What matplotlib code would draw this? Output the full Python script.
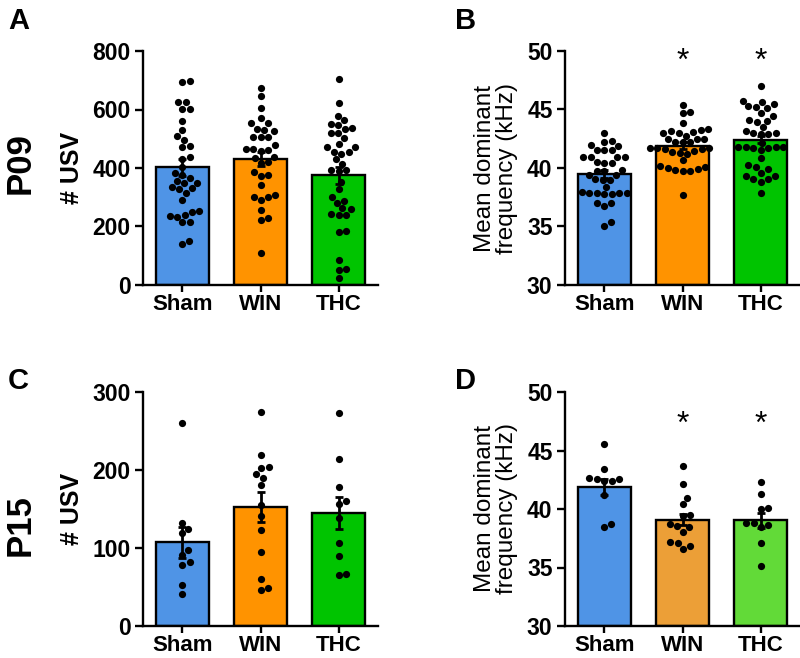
import numpy as np
import matplotlib
matplotlib.use('Agg')
import matplotlib.pyplot as plt

plt.rcParams['font.family'] = ['Liberation Sans', 'DejaVu Sans']

groups = ['Sham', 'WIN', 'THC']

# P09 - number of USVs (individual pups)
usv_p09_sham = [695, 699, 624, 627, 602, 601, 559, 530, 508, 496, 475, 471, 439, 431, 405, 382, 376, 367,
                357, 350, 348, 336, 331, 328, 314, 291, 254, 251, 239, 236, 234, 217, 214, 150, 140]
usv_p09_win = [675, 647, 604, 570, 553, 553, 530, 526, 534, 507, 507, 507, 477, 464, 458, 462, 464, 439,
               433, 422, 416, 387, 374, 376, 342, 302, 302, 308, 291, 256, 228, 222, 108]
usv_p09_thc = [703, 621, 579, 549, 547, 564, 532, 519, 519, 538, 501, 481, 473, 456, 448, 456, 471, 430,
               414, 393, 393, 390, 353, 328, 287, 281, 302, 262, 239, 239, 242, 259, 186, 180, 85, 54, 51, 25]
usv_p09_mean = [402, 431, 376]
usv_p09_sem = [28, 25, 29]

# P09 - mean dominant frequency (kHz)
freq_p09_sham = [42.96, 42.25, 42.31, 41.88, 41.97, 41.54, 41.54, 41.54, 40.97, 40.97, 40.97, 40.91, 40.54,
                 40.46, 40.40, 39.83, 39.74, 39.74, 39.40, 39.40, 38.97, 38.97, 39.03, 38.40, 37.89, 37.89,
                 37.89, 37.83, 37.78, 37.78, 37.98, 37.04, 37.04, 36.75, 35.41, 35.04]
freq_p09_win = [45.38, 44.76, 44.73, 43.82, 43.30, 43.19, 42.96, 42.96, 43.05, 43.25, 42.76, 42.48, 42.25,
                42.19, 42.19, 42.45, 42.48, 41.68, 41.68, 41.60, 41.45, 41.40, 41.62, 41.68, 41.31, 41.20,
                40.68, 40.11, 39.91, 39.77, 39.77, 39.83, 39.97, 40.17, 37.69]
freq_p09_thc = [47.01, 45.76, 45.47, 45.67, 45.30, 45.10, 45.24, 44.73, 44.44, 44.10, 43.96, 44.05, 43.53,
                43.19, 43.02, 42.91, 42.91, 43.02, 42.17, 41.77, 41.68, 41.68, 41.54, 41.77, 41.82, 41.82,
                40.83, 40.26, 40.11, 39.89, 39.60, 39.32, 39.03, 39.06, 39.32, 38.83, 37.89]
freq_p09_mean = [39.5, 41.9, 42.4]
freq_p09_sem = [0.33, 0.3, 0.3]

# P15 - number of USVs
usv_p15_sham = [260.7, 132.3, 125.0, 118.6, 97.3, 90.9, 81.5, 78.1, 52.5, 41.0]
usv_p15_win = [274.4, 219.8, 202.7, 203.5, 195.4, 189.9, 180.5, 154.9, 140.8, 123.7, 94.3, 60.2, 45.7, 49.1]
usv_p15_thc = [273.5, 214.6, 178.4, 156.2, 160.4, 138.7, 106.7, 89.6, 65.3, 66.6]
usv_p15_mean = [107.5, 152.8, 145]
usv_p15_sem = [20, 19, 21]

# P15 - mean dominant frequency (kHz)
freq_p15_sham = [45.55, 43.44, 42.64, 42.58, 42.41, 42.41, 42.58, 41.16, 38.44, 38.73]
freq_p15_win = [43.69, 42.13, 40.98, 40.44, 39.42, 39.50, 38.70, 38.47, 38.07, 38.53, 37.13, 36.62, 36.88, 37.16]
freq_p15_thc = [42.30, 41.27, 40.07, 39.99, 38.79, 38.50, 38.64, 38.84, 37.13, 35.16]
freq_p15_mean = [41.9, 39.1, 39.05]
freq_p15_sem = [0.7, 0.45, 0.65]

colors_top = ['#4F94E6', '#FF9300', '#00C400']
colors_d = ['#4F94E6', '#EC9F37', '#62DA38']

W, H = 800, 658
fig = plt.figure(figsize=(W / 100, H / 100), dpi=100)


def px_axes(left, top, right, bottom):
    return fig.add_axes([left / W, 1 - bottom / H, (right - left) / W, (bottom - top) / H])


def swarm_x(ax, values, center, dot=7.5, step=0.5):
    # simple beeswarm: place points one by one at the smallest free horizontal offset
    pts = ax.transData.transform(np.column_stack([np.full(len(values), center), values]))
    ys = pts[:, 1]
    px_per_unit = ax.transData.transform((1, 0))[0] - ax.transData.transform((0, 0))[0]
    placed = []
    offs = np.zeros(len(values))
    for i in np.argsort(ys):
        y = ys[i]
        k = 0
        while True:
            cands = [0.0] if k == 0 else [k * step, -k * step]
            found = None
            for c in cands:
                if all((c - px) ** 2 + (y - py) ** 2 >= dot ** 2 for px, py in placed):
                    found = c
                    break
            if found is not None:
                break
            k += 1
        placed.append((found, y))
        offs[i] = found
    return center + offs / px_per_unit


def panel(ax, data, means, sems, colors, ylim, yticks, ylabel, label_bold, stars=None, star_y=None):
    x = np.arange(len(groups))
    ax.set_xlim(-0.5, 2.5)
    ax.set_ylim(*ylim)
    base = ylim[0]
    ax.bar(x, np.array(means) - base, bottom=base, width=0.68, color=colors,
           edgecolor='black', linewidth=1.7, zorder=2)
    ax.errorbar(x, means, yerr=sems, fmt='none', ecolor='black', elinewidth=2,
                capsize=3, capthick=2, zorder=3)
    for i, vals in enumerate(data):
        xs = swarm_x(ax, vals, i)
        ax.scatter(xs, vals, s=27, color='black', linewidths=0, zorder=4, clip_on=False)
    ax.set_yticks(yticks)
    ax.set_xticks(x)
    ax.set_xticklabels(groups)
    for s in ['top', 'right']:
        ax.spines[s].set_visible(False)
    for s in ['left', 'bottom']:
        ax.spines[s].set_linewidth(1.7)
    ax.tick_params(axis='y', length=6, width=1.7, labelsize=16.5, pad=3)
    ax.tick_params(axis='x', length=5, width=1.7, labelsize=16, pad=1.5)
    for t in ax.get_xticklabels() + ax.get_yticklabels():
        t.set_fontweight('bold')
    if label_bold:
        ax.set_ylabel(ylabel, fontsize=18, fontweight='bold', va='center')
        ax.yaxis.set_label_coords(-71 / 235, 0.5)
    else:
        ax.set_ylabel(ylabel, fontsize=17.5, va='center', linespacing=1.05)
        ax.yaxis.set_label_coords(-69 / 235, 0.5)
    if stars:
        for i in stars:
            ax.text(i, star_y, '*', ha='center', va='center', fontsize=23, zorder=5)


axA = px_axes(143, 51, 378, 285)
axB = px_axes(565, 51, 800, 285)
axC = px_axes(143, 392, 378, 626)
axD = px_axes(565, 392, 800, 626)

panel(axA, [usv_p09_sham, usv_p09_win, usv_p09_thc], usv_p09_mean, usv_p09_sem, colors_top,
      (0, 800), [0, 200, 400, 600, 800], '# USV', True)
panel(axB, [freq_p09_sham, freq_p09_win, freq_p09_thc], freq_p09_mean, freq_p09_sem, colors_top,
      (30, 50), [30, 35, 40, 45, 50], 'Mean dominant\nfrequency (kHz)', False, stars=[1, 2], star_y=49.1)
panel(axC, [usv_p15_sham, usv_p15_win, usv_p15_thc], usv_p15_mean, usv_p15_sem, colors_top,
      (0, 300), [0, 100, 200, 300], '# USV', True)
panel(axD, [freq_p15_sham, freq_p15_win, freq_p15_thc], freq_p15_mean, freq_p15_sem, colors_d,
      (30, 50), [30, 35, 40, 45, 50], 'Mean dominant\nfrequency (kHz)', False, stars=[1, 2], star_y=47.2)

for letter, xp, yp in [('A', 8, 29), ('B', 455, 29), ('C', 8, 389), ('D', 455, 389)]:
    fig.text(xp / W, 1 - yp / H, letter, fontsize=21, fontweight='bold', ha='left', va='baseline')

fig.text(20 / W, 1 - 163 / H, 'P09', fontsize=25, fontweight='bold', rotation=90, ha='center', va='center')
fig.text(20 / W, 1 - 525 / H, 'P15', fontsize=25, fontweight='bold', rotation=90, ha='center', va='center')

fig.savefig('out.png', dpi=100)
